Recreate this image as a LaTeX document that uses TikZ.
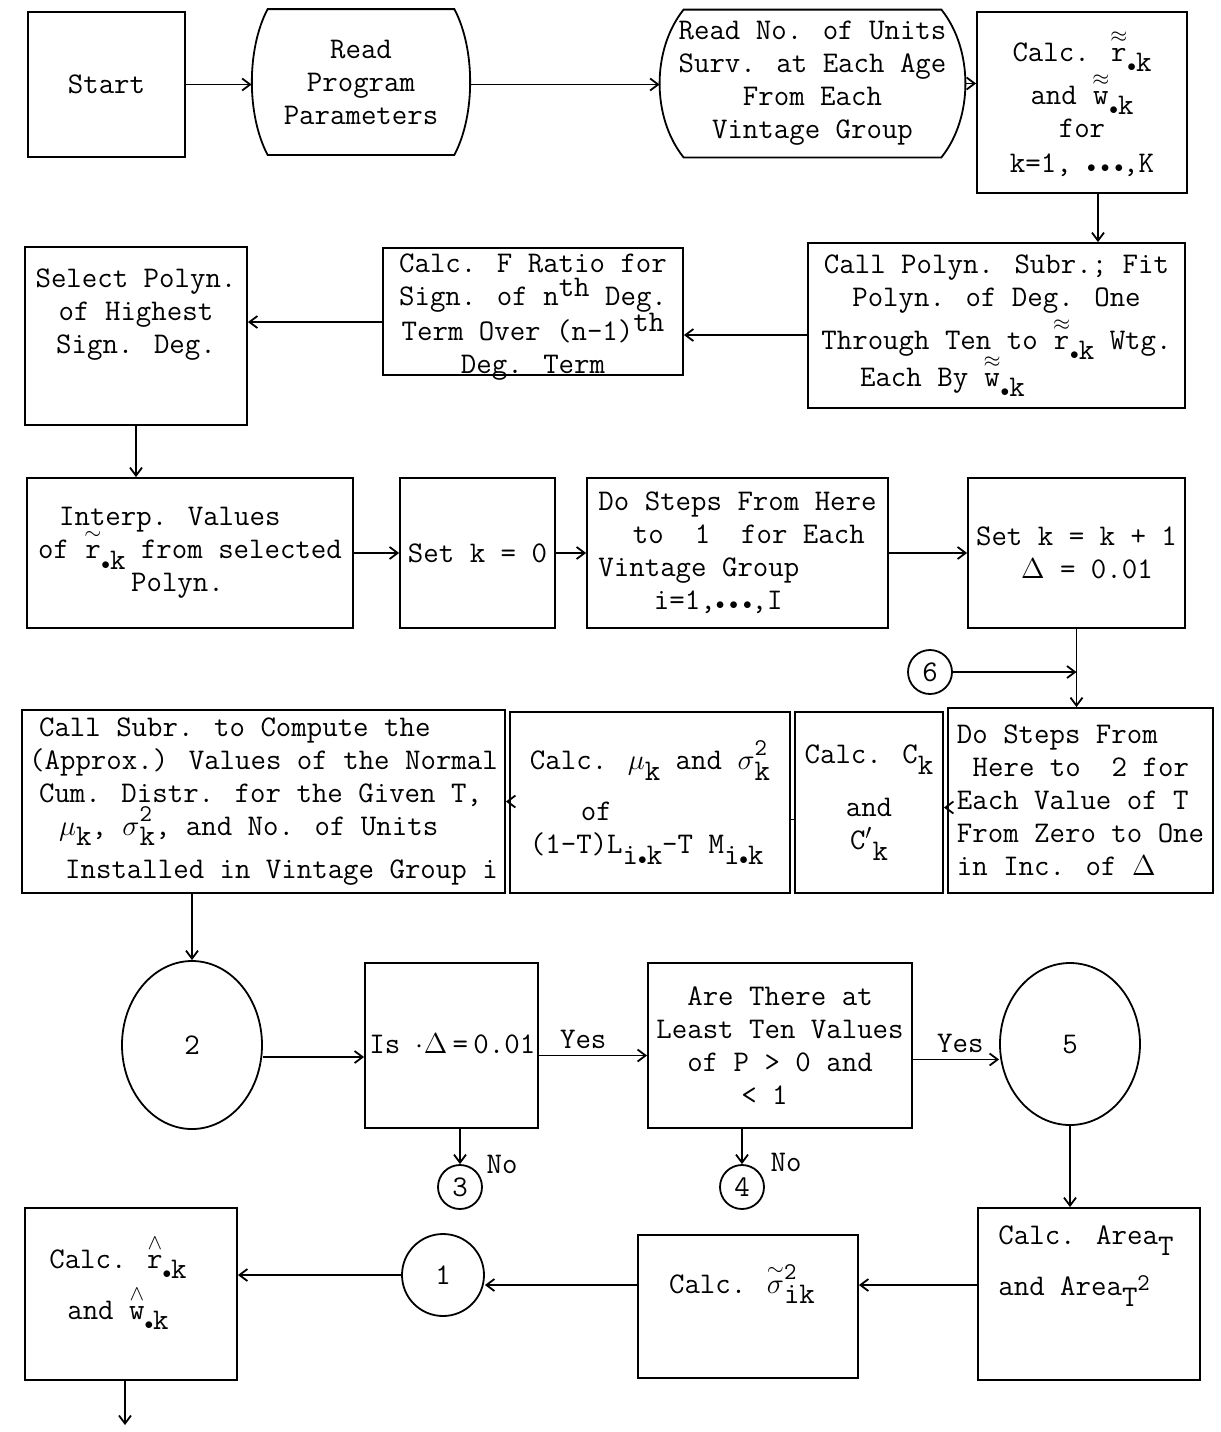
\documentclass[tikz,border=0pt]{standalone}
\usepackage{amsmath}
\usetikzlibrary{arrows.meta,calc,shapes.geometric}
\newcommand\bd{\scalebox{0.6}{$\bullet$}}
\newcommand\dn[1]{\raisebox{-0.8ex}{#1}}
\newcommand\up[1]{\raisebox{0.7ex}{#1}}
\newcommand\acc[2]{\ensuremath{\overset{#1}{\text{#2}}}}
\newcommand\stk[2]{\rlap{\raisebox{1.1ex}{\fontsize{12}{12}\selectfont #1}}\raisebox{-0.8ex}{#2}}
\newcommand\fixls{\lineskiplimit-100pt\relax}
\begin{document}
\begin{tikzpicture}[x=0.5pt,y=-0.5pt,
  every node/.style={font=\ttfamily\fontsize{15}{16.5}\selectfont\fixls, inner sep=0pt},
  box/.style={draw, line width=0.9pt},
  circ/.style={draw, line width=0.9pt, circle},
  ell/.style={draw, line width=0.9pt, ellipse},
  arr/.style={line width=0.9pt, -{Straight Barb[length=4pt,width=6pt]}},
  ln/.style={line width=0.9pt}]
\useasboundingbox (0,0) rectangle (1221,1432);

% Row 1
\node[box, minimum width=78.5pt, minimum height=72.5pt] (start) at (106.5,84.5) {Start};
\node[minimum width=109pt, minimum height=72.5pt, align=center] (rp) at (361,82) {Read\\Program\\Parameters};
\draw[ln] ($(rp.north west)+(16,0)$) -- ($(rp.north east)+(-16,0)$)
  .. controls ($(rp.north east)+(5,40)$) and ($(rp.south east)+(5,-40)$) .. ($(rp.south east)+(-16,0)$)
  -- ($(rp.south west)+(16,0)$)
  .. controls ($(rp.south west)+(-5,-40)$) and ($(rp.north west)+(-5,40)$) .. ($(rp.north west)+(16,0)$) -- cycle;
\node[minimum width=152.5pt, minimum height=73.5pt, align=center] (rn) at (812.5,83.5) {Read No. of Units\\Surv. at Each Age\\From Each\\Vintage Group};
\draw[ln] ($(rn.north west)+(24,0)$) -- ($(rn.north east)+(-24,0)$)
  .. controls ($(rn.north east)+(8,40)$) and ($(rn.south east)+(8,-40)$) .. ($(rn.south east)+(-24,0)$)
  -- ($(rn.south west)+(24,0)$)
  .. controls ($(rn.south west)+(-8,-40)$) and ($(rn.north west)+(-8,40)$) .. ($(rn.north west)+(24,0)$) -- cycle;
\node[box, minimum width=105pt, minimum height=90.5pt, align=center] (calc1) at (1082,102.5)
  {Calc. \acc{\approx}{r}\dn{\bd k}\\[5pt]and \acc{\approx}{w}\dn{\bd k}\\for\\[1pt]k=1, \bd\,\bd\,\bd,K};

% Row 2
\node[box, minimum width=188.5pt, minimum height=82.5pt, align=center] (callp) at (996.5,325.5)
  {Call Polyn. Subr.; Fit\\Polyn. of Deg. One\\[5pt]Through Ten to \acc{\approx}{r}\dn{\bd k} Wtg.\\[2pt]Each By \acc{\approx}{w}\dn{\bd k}\phantom{XXXXXXX}};
\node[box, minimum width=150pt, minimum height=63.5pt] (calcF) at (533,311.5) {};
\node[align=center] (calcFT) at (533,317)
  {Calc. F Ratio for\\Sign. of n\up{th} Deg.\\[1pt]Term Over (n-1)\up{th}\\Deg. Term};
\node[box, minimum width=111pt, minimum height=89pt] (select) at (136,336) {};
\node[align=center] (selT) at (136,315) {Select Polyn.\\of Highest\\Sign. Deg.};

% Row 3
\node[box, minimum width=163pt, minimum height=75pt, align=left] (interp) at (190,553)
  {\hspace*{0.7em}Interp. Values\\of \acc{\sim}{r}\dn{\bd k} from selected\\\hspace*{3.1em}Polyn.};
\node[box, minimum width=77.5pt, minimum height=75pt] (setk0) at (477.5,553) {Set k = 0};
\node[box, minimum width=150.5pt, minimum height=75pt, align=left] (dosteps) at (737.5,553)
  {Do Steps From Here\\\hspace*{1.15em}to\ \ 1\ \ for Each\\Vintage Group\\\hspace*{1.85em}i=1,\bd\,\bd\,\bd,I};
\node[box, minimum width=108.5pt, minimum height=75pt, align=left] (setkk) at (1076.5,553)
  {Set k = k + 1\\\hspace*{1.5em}$\Delta$ = 0.01};
\node[circ, minimum size=22pt] (c6) at (930,672) {6};

% Row 4
\node[box, minimum width=132.5pt, minimum height=92.5pt, align=left] (dost) at (1080.5,800.5)
  {Do Steps From\\\hspace*{0.525em}Here to\ \ 2 for\\Each Value of T\\From Zero to One\\in Inc. of $\Delta$};
\node[box, minimum width=74pt, minimum height=90.5pt, align=center] (calcC) at (869,802.5)
  {Calc. C\dn{k}\\[10pt]and\\C$'$\dn{k}};
\node[box, minimum width=140pt, minimum height=90.5pt, align=left] (calcMu) at (650,802.5)
  {Calc. $\mu$\dn{k} and $\sigma$\stk{2}{k}\\[9pt]\hspace*{1.7em}of\\(1-T)L\dn{i\bd k}-T M\dn{i\bd k}};
\node[box, minimum width=241.5pt, minimum height=91.5pt, align=left] (callSubr) at (263.5,801.5)
  {\hspace*{0.33em}Call Subr. to Compute the\\(Approx.) Values of the Normal\\\hspace*{0.33em}Cum. Distr. for the Given T,\\\hspace*{1em}$\mu$\dn{k}, $\sigma$\stk{2}{k}, and No. of Units\\[5pt]\hspace*{1.2em}Installed in Vintage Group i};

% Row 5
\node[ell, minimum width=70pt, minimum height=84pt] (c2) at (192,1045) {2};
\node[box, minimum width=86.5pt, minimum height=82.5pt] (isd) at (451.5,1045.5) {};
\node[anchor=west] (isdT) at (369,1044) {Is $\cdot\Delta$\hspace{0.18em}=\hspace{0.18em}0.01};
\node[box, minimum width=132pt, minimum height=82.5pt, align=center] (are) at (780,1045.5)
  {Are There at\\Least Ten Values\\of P > 0 and\\< 1\phantom{XX}};
\node[ell, minimum width=70pt, minimum height=81pt] (c5) at (1070,1044) {5};
\node[circ, minimum size=22pt] (c3) at (460,1187) {3};
\node[circ, minimum size=22pt] (c4) at (742,1187) {4};
\node (no3) at (502,1164) {No};
\node (no4) at (786,1162) {No};

% Row 6
\node[box, minimum width=111pt, minimum height=86pt] (area) at (1089,1294) {};
\node[anchor=west, align=left] (areaT) at (998,1266) {Calc. Area\dn{T}\\[9pt]and Area\dn{T\raisebox{1.2ex}{\fontsize{12}{12}\selectfont 2}}};
\node[box, minimum width=110pt, minimum height=71.5pt] (sig) at (748,1306.5) {};
\node (sigT) at (742,1284) {Calc. $\overset{\sim}{\sigma}$\stk{2}{ik}};
\node[circ, minimum size=41pt] (c1) at (443,1275) {1};
\node[box, minimum width=106pt, minimum height=86pt] (hat) at (131,1294) {};
\node[align=center] (hatT) at (118,1282) {Calc. \acc{\wedge}{r}\dn{\bd k}\\[9pt]and \acc{\wedge}{w}\dn{\bd k}};
\coordinate (endp) at (125,1425);

% Connectors
\draw[arr] (start.east) -- (start.east -| rp.west);
\draw[arr] (rp.east |- start.east) -- (start.east -| rn.west);
\draw[arr] (rn.east) -- (rn.east -| calc1.west);
\coordinate (a1) at ([xshift=8pt]calc1.south);
\draw[arr] (a1) -- (a1 |- callp.north);
\coordinate (a2) at ($(callp.west)+(0,9.5)$);
\draw[arr] (a2) -- (a2 -| calcF.east);
\coordinate (a3) at ($(calcF.west)+(0,10.5)$);
\draw[arr] (a3) -- (a3 -| select.east);
\draw[arr] (select.south) -- (select.south |- interp.north);
\draw[arr] (interp) -- (setk0);
\draw[arr] (setk0) -- (dosteps);
\draw[arr] (dosteps) -- (setkk);
\draw[arr] (setkk.south) -- (setkk.south |- dost.north);
\draw[arr] (c6) -- (c6 -| setkk.south);
\coordinate (a4) at ($(dost.west)+(0,7)$);
\draw[arr] (a4) -- (a4 -| calcC.east);
\coordinate (a5) at ($(calcC.west)+(0,17)$);
\draw[ln] (a5) -- (a5 -| calcMu.east);
\draw[arr] (calcMu.west |- callSubr.east) -- (callSubr.east);
\draw[arr] (callSubr.south -| c2) -- (c2.north);
\coordinate (a6) at ($(c2.east)+(0,12)$);
\draw[arr] (a6) -- (a6 -| isd.west);
\coordinate (a7) at ($(isd.east)+(0,10)$);
\draw[arr] (a7) -- node[above=3pt, pos=0.41] {Yes} (a7 -| are.west);
\coordinate (a8) at ($(are.east)+(0,14)$);
\draw[arr] (a8) -- node[above=3pt, pos=0.55] {Yes} (a8 -| c5.west);
\draw[arr] (isd.south -| c3) -- (c3.north);
\draw[arr] (are.south -| c4) -- (c4.north);
\draw[arr] (c5.south) -- (c5.south |- area.north);
\coordinate (a9) at ($(area.west)+(0,-9)$);
\draw[arr] (a9) -- (a9 -| sig.east);
\draw[arr] (a9 -| sig.west) -- (a9 -| c1.east);
\draw[arr] (c1.west) -- (c1.west -| hat.east);
\draw[arr] (hat.south -| endp) -- (endp);
\end{tikzpicture}
\end{document}
